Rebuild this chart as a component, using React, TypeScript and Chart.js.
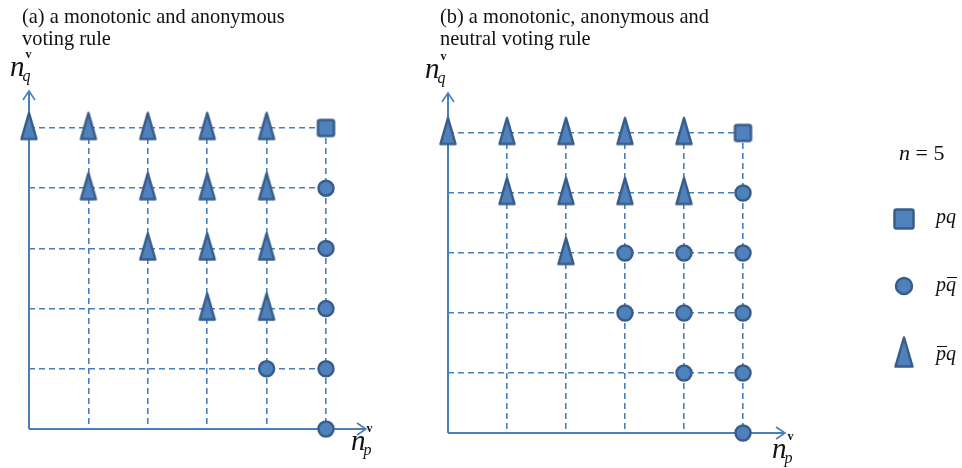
import React, { useEffect, useRef } from "react";
import { Chart, registerables } from "chart.js";

Chart.register(...registerables);

// n = 5 voters: each axis counts the voters who accept p (x) and q (y)
const N_VOTERS = 5;

// Outcomes as [n_p, n_q] pairs — panel (a)
const A_PQ = [[5, 5]];
const A_P_NOTQ = [[5, 4], [5, 3], [5, 2], [5, 1], [5, 0], [4, 1]];
const A_NOTP_Q = [
  [0, 5], [1, 5], [2, 5], [3, 5], [4, 5],
  [1, 4], [2, 4], [3, 4], [4, 4],
  [2, 3], [3, 3], [4, 3],
  [3, 2], [4, 2],
];

// Outcomes — panel (b)
const B_PQ = [[5, 5]];
const B_P_NOTQ = [[5, 4], [5, 3], [5, 2], [5, 1], [5, 0], [3, 3], [4, 3], [3, 2], [4, 2], [4, 1]];
const B_NOTP_Q = [
  [0, 5], [1, 5], [2, 5], [3, 5], [4, 5],
  [1, 4], [2, 4], [3, 4], [4, 4],
  [2, 3],
];

const TITLE_A = ["(a) a monotonic and anonymous", "voting rule"];
const TITLE_B = ["(b) a monotonic, anonymous and", "neutral voting rule"];

const FILL = "#4F81BD";
const EDGE = "#385D8A";
const LINE = "#4A7EBB";
const INK = "#111111";
const SERIF = '"Liberation Serif", "Times New Roman", serif';

const toPoints = (pairs: number[][]) => pairs.map(([x, y]) => ({ x, y }));

// Tall isosceles triangle marker; extra room below lifts it slightly above its point
function makeTriangle(w: number, h: number, lift: number) {
  const lw = 2.5;
  const c = document.createElement("canvas");
  c.width = Math.ceil(w + lw * 2);
  c.height = Math.ceil(h + lw * 2 + lift);
  const ctx = c.getContext("2d")!;
  ctx.beginPath();
  ctx.moveTo(c.width / 2, lw);
  ctx.lineTo(lw, lw + h);
  ctx.lineTo(lw + w, lw + h);
  ctx.closePath();
  ctx.lineJoin = "round";
  ctx.fillStyle = FILL;
  ctx.fill();
  ctx.lineWidth = lw;
  ctx.strokeStyle = EDGE;
  ctx.stroke();
  return c;
}

// Square marker with softened corners
function makeSquare(s: number) {
  const lw = 2.5;
  const c = document.createElement("canvas");
  c.width = Math.ceil(s + lw * 2);
  c.height = Math.ceil(s + lw * 2);
  const ctx = c.getContext("2d")!;
  const r = 2;
  const x0 = lw, y0 = lw, x1 = lw + s, y1 = lw + s;
  ctx.beginPath();
  ctx.moveTo(x0 + r, y0);
  ctx.arcTo(x1, y0, x1, y1, r);
  ctx.arcTo(x1, y1, x0, y1, r);
  ctx.arcTo(x0, y1, x0, y0, r);
  ctx.arcTo(x0, y0, x1, y0, r);
  ctx.closePath();
  ctx.fillStyle = FILL;
  ctx.fill();
  ctx.lineWidth = lw;
  ctx.strokeStyle = EDGE;
  ctx.stroke();
  return c;
}

function drawCircle(ctx: CanvasRenderingContext2D, x: number, y: number, r: number) {
  ctx.beginPath();
  ctx.arc(x, y, r, 0, Math.PI * 2);
  ctx.fillStyle = FILL;
  ctx.fill();
  ctx.lineWidth = 2.5;
  ctx.strokeStyle = EDGE;
  ctx.stroke();
}

// italic n with a bold superscript v and an italic subscript
function drawCount(ctx: CanvasRenderingContext2D, x: number, base: number, sub: string) {
  ctx.fillStyle = INK;
  ctx.textBaseline = "alphabetic";
  ctx.textAlign = "left";
  ctx.font = `italic 29px ${SERIF}`;
  ctx.fillText("n", x, base);
  const w = ctx.measureText("n").width;
  ctx.font = `bold 12px ${SERIF}`;
  ctx.fillText("v", x + w + 1, base - 18);
  ctx.font = `italic 16px ${SERIF}`;
  ctx.fillText(sub, x + w - 2, base + 5);
}

// text with a bar over the character at index barAt
function drawBarred(ctx: CanvasRenderingContext2D, text: string, barAt: number, x: number, base: number) {
  ctx.font = `italic 20px ${SERIF}`;
  ctx.fillStyle = INK;
  ctx.fillText(text, x, base);
  const before = ctx.measureText(text.slice(0, barAt)).width;
  const cw = ctx.measureText(text[barAt]).width;
  ctx.strokeStyle = INK;
  ctx.lineWidth = 1;
  ctx.beginPath();
  ctx.moveTo(x + before + 1, base - 13.5);
  ctx.lineTo(x + before + cw + 1, base - 13.5);
  ctx.stroke();
}

const diagramPlugin = {
  id: "diagram",
  beforeDatasetsDraw(chart: any, _args: any, opts: any) {
    const { ctx } = chart;
    const xs = chart.scales.x;
    const ys = chart.scales.y;
    const x0 = xs.getPixelForValue(0);
    const y0 = ys.getPixelForValue(0);
    const xTip = xs.getPixelForValue(N_VOTERS) + opts.xExt;
    const yTip = ys.getPixelForValue(N_VOTERS) - opts.yExt;
    ctx.save();
    ctx.setLineDash([]);
    ctx.strokeStyle = LINE;
    ctx.lineWidth = 2;
    ctx.beginPath();
    ctx.moveTo(x0, y0);
    ctx.lineTo(xTip, y0);
    ctx.moveTo(x0, y0);
    ctx.lineTo(x0, yTip);
    ctx.stroke();
    ctx.lineWidth = 1.6;
    ctx.beginPath();
    ctx.moveTo(xTip - 9, y0 - 6);
    ctx.lineTo(xTip, y0);
    ctx.lineTo(xTip - 9, y0 + 6);
    ctx.moveTo(x0 - 6, yTip + 9);
    ctx.lineTo(x0, yTip);
    ctx.lineTo(x0 + 6, yTip + 9);
    ctx.stroke();
    ctx.restore();
  },
  afterDraw(chart: any, _args: any, opts: any) {
    const { ctx } = chart;
    ctx.save();
    ctx.fillStyle = INK;
    ctx.font = `20.4px ${SERIF}`;
    ctx.textAlign = "left";
    ctx.textBaseline = "alphabetic";
    opts.title.forEach((line: string, i: number) => {
      ctx.fillText(line, opts.titleX, 22.5 + i * 22.5);
    });
    drawCount(ctx, opts.yLabel[0], opts.yLabel[1], "q");
    drawCount(ctx, opts.xLabel[0], opts.xLabel[1], "p");

    if (opts.legend) {
      const [lx, ly] = opts.legend;
      ctx.font = `italic 22px ${SERIF}`;
      ctx.fillStyle = INK;
      ctx.fillText("n", lx - 21, ly);
      const nw = ctx.measureText("n").width;
      ctx.font = `22px ${SERIF}`;
      ctx.fillText(" = " + N_VOTERS, lx - 21 + nw, ly);

      const sq = makeSquare(19);
      ctx.drawImage(sq, lx - 16 - sq.width / 2, ly + 59 - sq.height / 2);
      ctx.font = `italic 20px ${SERIF}`;
      ctx.fillText("pq", lx + 16, ly + 63);

      drawCircle(ctx, lx - 16, ly + 126, 8);
      drawBarred(ctx, "pq", 1, lx + 16, ly + 131);

      const tri = makeTriangle(17, 29, 0);
      ctx.drawImage(tri, lx - 16 - tri.width / 2, ly + 192 - tri.height / 2);
      drawBarred(ctx, "pq", 0, lx + 16, ly + 200);
    }
    ctx.restore();
  },
};

function buildConfig(
  pq: number[][], pNotQ: number[][], notPQ: number[][],
  padding: any, pluginOpts: any,
) {
  const triangle = makeTriangle(15, 26, 4);
  const square = makeSquare(16);
  const axis = {
    type: "linear",
    min: 0,
    max: N_VOTERS,
    ticks: { display: false, stepSize: 1 },
    grid: { color: LINE, lineWidth: 1.6, drawTicks: false },
    border: { display: false, dash: [6, 4] },
  };
  const common = { showLine: false, clip: false, pointHoverRadius: 0 };
  return {
    type: "scatter",
    data: {
      datasets: [
        {
          label: "p̄q", data: toPoints(notPQ), pointStyle: triangle, ...common,
        },
        {
          label: "pq̄", data: toPoints(pNotQ), pointStyle: "circle", pointRadius: 7.5,
          pointBackgroundColor: FILL, pointBorderColor: EDGE, pointBorderWidth: 2.5, ...common,
        },
        {
          label: "pq", data: toPoints(pq), pointStyle: square, ...common,
        },
      ],
    },
    options: {
      responsive: false,
      animation: false,
      events: [],
      layout: { padding },
      scales: { x: axis, y: { ...axis } },
      plugins: {
        legend: { display: false },
        tooltip: { enabled: false },
        diagram: pluginOpts,
      },
    },
    plugins: [diagramPlugin],
  } as any;
}

function Panel(props: { width: number; left: number; config: () => any }) {
  const ref = useRef<HTMLCanvasElement | null>(null);
  useEffect(() => {
    const chart = new Chart(ref.current!, props.config());
    return () => chart.destroy();
  }, []);
  return (
    <canvas
      ref={ref}
      width={props.width}
      height={468}
      style={{ position: "absolute", left: props.left, top: 0, width: props.width, height: 468 }}
    />
  );
}

export default function App() {
  return (
    <div style={{ position: "absolute", left: 0, top: 0, width: 962, height: 468, background: "#fff", overflow: "hidden" }}>
      <Panel
        width={420}
        left={0}
        config={() =>
          buildConfig(A_PQ, A_P_NOTQ, A_NOTP_Q,
            { left: 29, right: 94, top: 128, bottom: 39 },
            { title: TITLE_A, titleX: 22, yLabel: [10, 76], xLabel: [351, 450], xExt: 40, yExt: 37 })
        }
      />
      <Panel
        width={542}
        left={420}
        config={() =>
          buildConfig(B_PQ, B_P_NOTQ, B_NOTP_Q,
            { left: 28, right: 219, top: 133, bottom: 35 },
            { title: TITLE_B, titleX: 20, yLabel: [5, 78], xLabel: [352, 458], xExt: 42, yExt: 40, legend: [500, 160] })
        }
      />
    </div>
  );
}
